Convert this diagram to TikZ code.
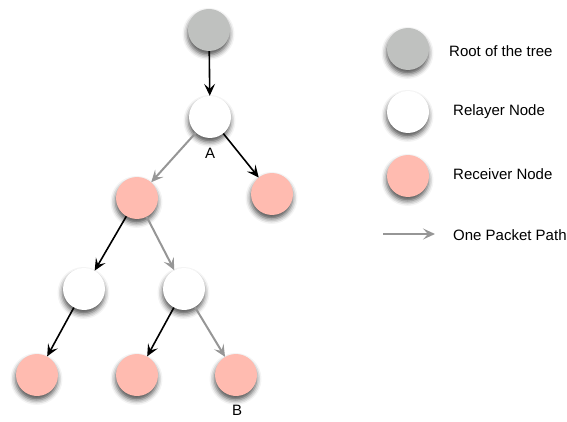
\documentclass[tikz,border=0pt]{standalone}
\usepackage{fontspec}
\setmainfont{Liberation Sans}
\usetikzlibrary{arrows.meta,shadows.blur}
\definecolor{rootgray}{RGB}{191,193,191}
\definecolor{recvpink}{RGB}{255,187,176}
\definecolor{pathgray}{RGB}{150,150,150}
\tikzset{
  nodebase/.style={circle,minimum size=42pt,inner sep=0pt,draw=none,
    blur shadow={shadow xshift=-0.5pt,shadow yshift=-4pt,shadow blur radius=5pt,shadow opacity=70}},
  rootnode/.style={nodebase,fill=rootgray},
  relaynode/.style={nodebase,fill=white},
  recvnode/.style={nodebase,fill=recvpink},
  blackedge/.style={draw=black,line width=1.6pt,-{Stealth[length=12pt,width=11pt,inset=5pt]}},
  grayedge/.style={draw=pathgray,line width=2pt,-{Stealth[length=12pt,width=11pt,inset=5pt]}},
  lbl/.style={font=\fontsize{15pt}{17pt}\selectfont,inner sep=0pt},
  legtext/.style={lbl,anchor=west}
}
\begin{document}
\begin{tikzpicture}[x=1pt,y=-1pt]
\useasboundingbox (0,0) rectangle (567,422);
% tree
\node[rootnode]  (root) at (209,30) {};
\node[relaynode] (A)    at (210,117) {};
\node[recvnode]  (rl)   at (137,198) {};
\node[recvnode]  (rr)   at (272,194) {};
\node[relaynode] (ml)   at (84,289) {};
\node[relaynode] (mr)   at (184,289) {};
\node[recvnode]  (b1)   at (37,375) {};
\node[recvnode]  (b2)   at (137,375) {};
\node[recvnode]  (b3)   at (236,375) {};
\node[lbl] (labA) at (210,153) {A};
\node[lbl] (labB) at (237,410) {B};
\path[blackedge] (root) -- (A);
\path[grayedge]  (A) -- (rl);
\path[blackedge] (A) -- (rr);
\path[blackedge] (rl) -- (ml);
\path[grayedge]  (rl) -- (mr);
\path[blackedge] (ml) -- (b1);
\path[blackedge] (mr) -- (b2);
\path[grayedge]  (mr) -- (b3);
% legend
\node[rootnode]  (lg1) at (408,49) {};
\node[relaynode] (lg2) at (408,112) {};
\node[recvnode]  (lg3) at (408,176) {};
\coordinate (la1) at (383,234);
\coordinate (la2) at (435,234);
\path[grayedge] (la1) -- (la2);
\node[legtext] (t1) at (449,51) {Root of the tree};
\node[legtext] (t2) at (453,112) {Relayer Node};
\node[legtext] (t3) at (453,174) {Receiver Node};
\node[legtext] (t4) at (453,235) {One Packet Path};
\end{tikzpicture}
\end{document}
